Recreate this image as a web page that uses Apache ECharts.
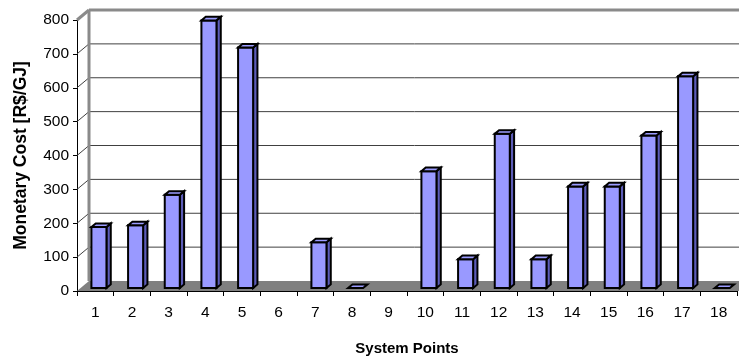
<!DOCTYPE html>
<html>
<head>
<meta charset="utf-8">
<script src="https://cdn.jsdelivr.net/npm/echarts@6/dist/echarts.min.js"></script>
<style>
  html, body { margin: 0; padding: 0; background: #ffffff; }
  #chart { width: 739px; height: 358px; }
</style>
</head>
<body>
<div id="chart"></div>
<script>
// System points on the horizontal axis
const categories = ['1','2','3','4','5','6','7','8','9','10','11','12','13','14','15','16','17','18'];
// Monetary cost per point in R$/GJ (null = no value)
const costValues = [180, 185, 275, 790, 710, null, 135, 0, null, 345, 85, 455, 85, 300, 300, 450, 625, 0];
// Value-axis tick positions
const yTicks = [0, 100, 200, 300, 400, 500, 600, 700, 800];

// Depth of the chart box (perspective shift of the back wall)
const DEPTH_X = 12, DEPTH_Y = -10;

const chart = echarts.init(document.getElementById('chart'), null, { renderer: 'canvas' });

// Floor of the box, dark grey parallelogram under the bars
function renderFloor(params, api) {
  const cs = params.coordSys;
  const y0 = api.coord([0, 0])[1];
  const x0 = cs.x, x1 = cs.x + cs.width + 20;
  return {
    type: 'polygon',
    shape: { points: [[x0, y0], [x1, y0], [x1 + DEPTH_X, y0 + DEPTH_Y], [x0 + DEPTH_X, y0 + DEPTH_Y]] },
    style: { fill: '#808080' },
    silent: true
  };
}

// Back-wall gridlines and the diagonal lines on the left side wall
function renderWall(params, api) {
  const cs = params.coordSys;
  const v = api.value(0);
  const y = api.coord([0, v])[1];
  const x0 = cs.x;
  const isTop = v === yTicks[yTicks.length - 1];
  const children = [];
  if (v !== 0) {
    children.push({
      type: 'line',
      shape: { x1: x0 + DEPTH_X, y1: y + DEPTH_Y, x2: cs.x + cs.width + 40, y2: y + DEPTH_Y },
      style: { stroke: isTop ? '#8a8a8a' : '#404040', lineWidth: isTop ? 3 : 1 }
    });
    children.push({
      type: 'line',
      shape: { x1: x0, y1: y, x2: x0 + DEPTH_X, y2: y + DEPTH_Y },
      style: { stroke: isTop ? '#8a8a8a' : '#404040', lineWidth: isTop ? 3 : 1 }
    });
  }
  if (isTop) {
    const yb = api.coord([0, 0])[1];
    children.push({
      type: 'line',
      shape: { x1: x0 + DEPTH_X, y1: y + DEPTH_Y, x2: x0 + DEPTH_X, y2: yb + DEPTH_Y },
      style: { stroke: '#8a8a8a', lineWidth: 3 }
    });
  }
  return { type: 'group', children: children, silent: true };
}

// 3D-looking column: front face, right side face and top face
function renderBar(params, api) {
  const v = api.value(1);
  if (v === null || v === undefined || isNaN(v)) return;
  const idx = api.value(0);
  const top = api.coord([idx, v]);
  const base = api.coord([idx, 0]);
  const band = api.size([1, 0])[0];
  const w = band * 0.41;
  // bar sits a little behind the front plane of the box
  const shiftX = DEPTH_X * 0.3, shiftY = DEPTH_Y * 0.3;
  const dx = DEPTH_X * 0.36, dy = DEPTH_Y * 0.36;
  const xl = top[0] - w / 2 + shiftX, xr = xl + w;
  const yt = top[1] + shiftY, yb = base[1] + shiftY;
  const stroke = { stroke: '#000000', lineWidth: 2, lineJoin: 'miter' };
  const children = [];
  if (yb - yt > 0.5) {
    children.push({
      type: 'polygon',
      shape: { points: [[xr, yt], [xr + dx, yt + dy], [xr + dx, yb + dy], [xr, yb]] },
      style: Object.assign({ fill: '#5c5cb8' }, stroke)
    });
    children.push({
      type: 'rect',
      shape: { x: xl, y: yt, width: w, height: yb - yt },
      style: Object.assign({ fill: '#9999ff' }, stroke)
    });
  }
  children.push({
    type: 'polygon',
    shape: { points: [[xl, yt], [xr, yt], [xr + dx, yt + dy], [xl + dx, yt + dy]] },
    style: Object.assign({ fill: '#9c9cff' }, stroke)
  });
  return { type: 'group', children: children };
}

const textStyle = { fontFamily: 'Liberation Sans, Arial, sans-serif', color: '#000000' };

chart.setOption({
  animation: false,
  backgroundColor: '#ffffff',
  textStyle: textStyle,
  grid: { left: 77, right: 2, top: 20, bottom: 67, containLabel: false, outerBoundsMode: 'none' },
  xAxis: {
    type: 'category',
    data: categories,
    boundaryGap: true,
    name: 'System Points',
    nameLocation: 'middle',
    nameGap: 50,
    nameTextStyle: { fontSize: 15, fontWeight: 'bold', color: '#000' },
    axisLine: { show: true, lineStyle: { color: '#000', width: 1 } },
    axisTick: { show: true, length: 5, lineStyle: { color: '#000' } },
    axisLabel: { fontSize: 15.5, color: '#000', margin: 14 },
    splitLine: { show: false }
  },
  yAxis: {
    type: 'value',
    min: 0,
    max: 800,
    interval: 100,
    name: 'Monetary Cost [R$/GJ]',
    nameLocation: 'middle',
    nameGap: 47,
    nameTextStyle: { fontSize: 17.5, fontWeight: 'bold', color: '#000' },
    axisLine: { show: true, lineStyle: { color: '#000', width: 1 } },
    axisTick: { show: true, length: 4, lineStyle: { color: '#000' } },
    axisLabel: { fontSize: 15.5, color: '#000', margin: 8 },
    splitLine: { show: false }
  },
  series: [
    {
      type: 'custom',
      name: 'floor',
      renderItem: renderFloor,
      data: [[0]],
      z: 1,
      silent: true
    },
    {
      type: 'custom',
      name: 'wall',
      renderItem: renderWall,
      data: yTicks.map(function (t) { return [t]; }),
      z: 1,
      silent: true
    },
    {
      type: 'custom',
      name: 'Monetary Cost',
      renderItem: renderBar,
      data: costValues.map(function (v, i) { return [i, v]; }),
      encode: { x: 0, y: 1 },
      z: 3
    }
  ]
});
</script>
</body>
</html>
